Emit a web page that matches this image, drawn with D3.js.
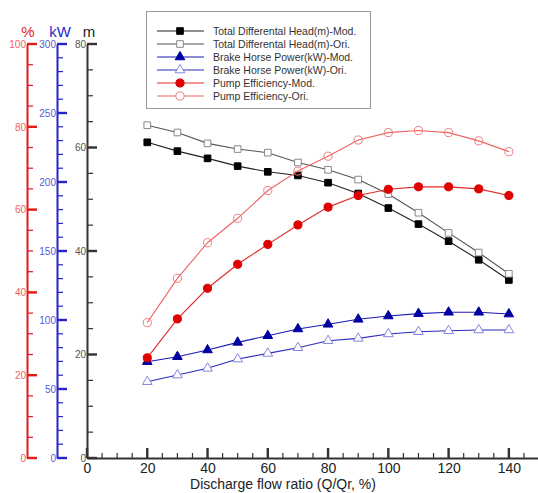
<!DOCTYPE html>
<html>
<head>
<meta charset="utf-8">
<script src="https://cdn.jsdelivr.net/npm/d3@7"></script>
<style>
  body { margin: 0; background: #fff; }
  svg { font-family: "Liberation Sans", Arial, sans-serif; }
</style>
</head>
<body>
<div id="chart"></div>
<script>
const WIDTH = 538;
const HEIGHT = 493;

// flow ratio Q/Qr (%)
const flow = [20, 30, 40, 50, 60, 70, 80, 90, 100, 110, 120, 130, 140];
// total differential head (m)
const headMod = [61.0, 59.3, 57.9, 56.4, 55.3, 54.6, 53.2, 51.1, 48.3, 45.2, 41.9, 38.3, 34.4];
const headOri = [64.3, 62.9, 60.8, 59.7, 59.0, 57.1, 55.7, 53.8, 51.0, 47.4, 43.5, 39.7, 35.6];
// brake horse power (kW)
const powerMod = [69.8, 73.4, 78.3, 83.8, 88.6, 93.5, 96.9, 100.5, 102.9, 104.6, 105.6, 105.6, 104.3];
const powerOri = [55.3, 60.1, 65.0, 71.7, 75.8, 79.9, 85.0, 86.7, 89.9, 91.5, 92.2, 92.8, 92.8];
// pump efficiency (%)
const effMod = [24.2, 33.6, 41.0, 46.8, 51.6, 56.3, 60.6, 63.4, 64.9, 65.5, 65.5, 65.0, 63.4];
const effOri = [32.7, 43.4, 52.0, 57.9, 64.6, 69.3, 72.9, 76.8, 78.6, 79.1, 78.6, 76.6, 74.0];

const xTicks = [0, 20, 40, 60, 80, 100, 120, 140];
const mTicks = [0, 20, 40, 60, 80];
const kwTicks = [0, 50, 100, 150, 200, 250, 300];
const pTicks = [0, 20, 40, 60, 80, 100];

const legendLabels = [
  'Total Differental Head(m)-Mod.',
  'Total Differental Head(m)-Ori.',
  'Brake Horse Power(kW)-Mod.',
  'Brake Horse Power(kW)-Ori.',
  'Pump Efficiency-Mod.',
  'Pump Efficiency-Ori.'
];

const svg = d3.select('#chart').append('svg')
    .attr('width', WIDTH)
    .attr('height', HEIGHT);

const y0 = 458, y1 = 44;
const x = d3.scaleLinear().domain([0, 150]).range([87, 539]);
const yM = d3.scaleLinear().domain([0, 80]).range([y0, y1]);
const yK = d3.scaleLinear().domain([0, 300]).range([y0, y1]);
const yP = d3.scaleLinear().domain([0, 100]).range([y0, y1]);

// tick marks drawn as thin rects so they show at any scale
function hTicks(scale, xpos, values, len, color, w) {
  svg.append('g').selectAll('rect')
    .data(values)
    .enter().append('rect')
      .attr('x', xpos)
      .attr('y', d => scale(d) - w / 2)
      .attr('width', len)
      .attr('height', w)
      .attr('fill', color);
}

// left axes: ticks pointing right, labels left of the line
function leftAxis(scale, xpos, major, minorStep, lineColor, textColor) {
  const [a, b] = scale.domain();
  const g = svg.append('g').attr('transform', `translate(${xpos},0)`);
  g.call(d3.axisLeft(scale).tickValues(major)
      .tickSize(0).tickPadding(1));
  g.select('path.domain').attr('stroke', lineColor).attr('stroke-width', 2);
  g.selectAll('text').attr('fill', textColor).style('font-size', '10px');
  hTicks(scale, xpos, d3.range(a, b + 0.001, minorStep), 6, lineColor, 1.2);
  hTicks(scale, xpos, major, 10, lineColor, 2.4);
}

leftAxis(yP, 27, pTicks, 5, '#e31a1a', '#ea6363');
leftAxis(yK, 57, kwTicks, 10, '#2424c8', '#5a5ad8');
leftAxis(yM, 87, mTicks, 5, '#333', '#555');

// axis titles
svg.append('text').attr('x', 28).attr('y', 37).attr('text-anchor', 'middle')
    .style('font-size', '15px').attr('fill', '#e31a1a').text('%');
svg.append('text').attr('x', 60).attr('y', 37).attr('text-anchor', 'middle')
    .style('font-size', '15px').attr('fill', '#2a2ac8').text('kW');
svg.append('text').attr('x', 89).attr('y', 37).attr('text-anchor', 'middle')
    .style('font-size', '15px').attr('fill', '#222').text('m');

// bottom axis: ticks pointing up
const gx = svg.append('g').attr('transform', `translate(0,${y0})`);
gx.call(d3.axisBottom(x).tickValues(xTicks)
    .tickSize(0).tickPadding(5));
gx.select('path.domain').attr('stroke', '#333').attr('stroke-width', 2);
gx.selectAll('text').attr('fill', '#222').style('font-size', '14px');

svg.append('g').selectAll('rect')
  .data(d3.range(0, 151, 5))
  .enter().append('rect')
    .attr('x', d => x(d) - 0.6).attr('y', y0 - 5)
    .attr('width', 1.2).attr('height', 5)
    .attr('fill', '#333');
svg.append('g').selectAll('rect')
  .data(xTicks)
  .enter().append('rect')
    .attr('x', d => x(d) - 1.2).attr('y', y0 - 10)
    .attr('width', 2.4).attr('height', 10)
    .attr('fill', '#333');

svg.append('text')
    .attr('x', 283).attr('y', 489)
    .attr('text-anchor', 'middle')
    .style('font-size', '14px')
    .attr('fill', '#222')
    .text('Discharge flow ratio (Q/Qr, %)');

// series
const series = [
  {vals: headMod, y: yM, line: '#222', shape: 'square', fill: '#000', stroke: '#000'},
  {vals: headOri, y: yM, line: '#555', shape: 'square', fill: '#fff', stroke: '#888'},
  {vals: powerMod, y: yK, line: '#1a1ab4', shape: 'triangle', fill: '#0000a0', stroke: '#0000a0'},
  {vals: powerOri, y: yK, line: '#2a2ac0', shape: 'triangle', fill: '#fff', stroke: '#8484e0'},
  {vals: effMod, y: yP, line: '#e02828', shape: 'circle', fill: '#e00000', stroke: '#e00000'},
  {vals: effOri, y: yP, line: '#f06464', shape: 'circle', fill: 'none', stroke: '#f07c7c'}
];

const symbols = {
  square: d3.symbol().type(d3.symbolSquare).size(44),
  triangle: d3.symbol().type(d3.symbolTriangle).size(40),
  circle: d3.symbol().type(d3.symbolCircle).size(52)
};

series.forEach(s => {
  const pts = flow.map((f, i) => [x(f), s.y(s.vals[i])]);
  svg.append('path')
      .attr('d', d3.line()(pts))
      .attr('fill', 'none')
      .attr('stroke', s.line)
      .attr('stroke-width', 1.1);
  svg.selectAll(null).data(pts).enter()
    .append('path')
      .attr('transform', d => `translate(${d[0]},${d[1]})`)
      .attr('d', symbols[s.shape]())
      .attr('fill', s.fill)
      .attr('stroke', s.stroke)
      .attr('stroke-width', 1);
});

// legend
const legend = svg.append('g');
legend.append('rect')
    .attr('x', 146.5).attr('y', 11.5)
    .attr('width', 224).attr('height', 97)
    .attr('fill', '#fff')
    .attr('stroke', '#999');

series.forEach((s, i) => {
  const ly = 31 + i * 13;
  legend.append('line')
      .attr('x1', 157).attr('x2', 204)
      .attr('y1', ly).attr('y2', ly)
      .attr('stroke', s.line).attr('stroke-width', 1.1);
  legend.append('path')
      .attr('transform', `translate(180,${ly})`)
      .attr('d', symbols[s.shape]())
      .attr('fill', s.fill === 'none' ? '#fff' : s.fill)
      .attr('stroke', s.stroke);
  legend.append('text')
      .attr('x', 213).attr('y', ly + 4)
      .style('font-size', '10.5px')
      .attr('fill', '#333')
      .text(legendLabels[i]);
});
</script>
</body>
</html>
